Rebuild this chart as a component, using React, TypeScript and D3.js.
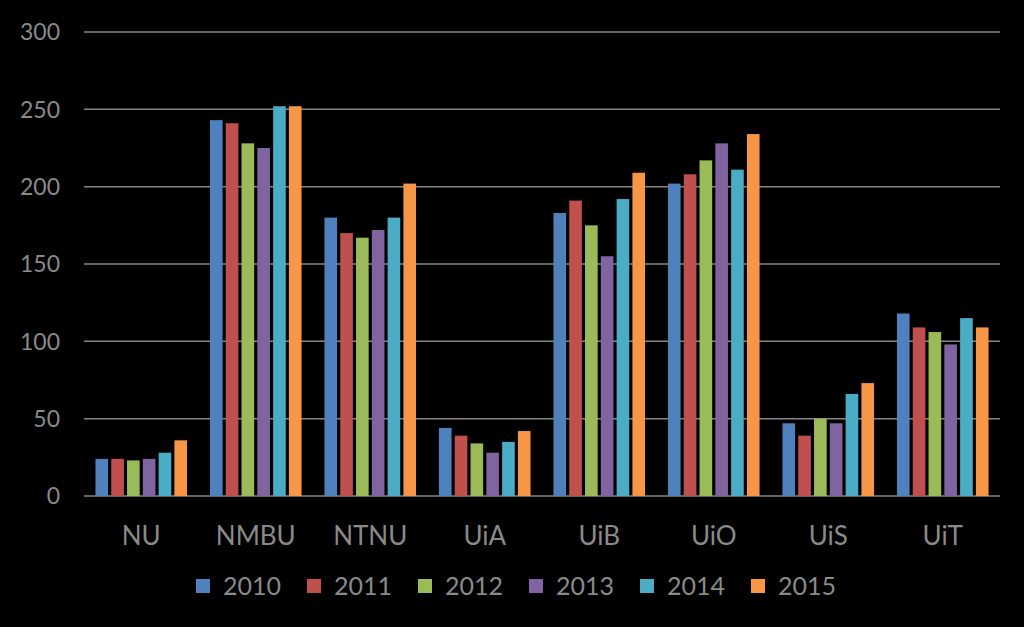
import React from 'react';
import * as d3 from 'd3';

const categories = ['NU', 'NMBU', 'NTNU', 'UiA', 'UiB', 'UiO', 'UiS', 'UiT'];
const years = ['2010', '2011', '2012', '2013', '2014', '2015'];
const yTicks = [0, 50, 100, 150, 200, 250, 300];

// one array per year, in category order
const v2010 = [24, 243, 180, 44, 183, 202, 47, 118];
const v2011 = [24, 241, 170, 39, 191, 208, 39, 109];
const v2012 = [23, 228, 167, 34, 175, 217, 50, 106];
const v2013 = [24, 225, 172, 28, 155, 228, 47, 98];
const v2014 = [28, 252, 180, 35, 192, 211, 66, 115];
const v2015 = [36, 252, 202, 42, 209, 234, 73, 109];
const seriesValues = [v2010, v2011, v2012, v2013, v2014, v2015];

const colors = ['#4F81BD', '#C0504D', '#9BBB59', '#8064A2', '#4BACC6', '#F79646'];

const W = 1024;
const H = 627;
const left = 84;
const right = 1000;
const top = 32;
const bottom = 496;
const textColor = '#8a8a8a';
const font = 'Lato, "Open Sans", sans-serif';

export default function App() {
  const x0 = d3.scaleBand<string>().domain(categories).range([left, right]).paddingInner(0.2).paddingOuter(0.1);
  const x1 = d3.scaleBand<string>().domain(years).range([0, x0.bandwidth()]).paddingInner(0.2);
  const y = d3.scaleLinear().domain([0, 300]).range([bottom, top]);

  const legendStep = 111;
  const legendStart = 196;

  return (
    <svg width={W} height={H} style={{ position: 'absolute', left: 0, top: 0, background: '#000' }}>
      <rect width={W} height={H} fill="#000" />
      {yTicks.map((t) => (
        <g key={t}>
          <line x1={left} x2={right} y1={y(t)} y2={y(t)} stroke="#868686" strokeWidth={1.5} />
          <text x={60} y={y(t)} dy="0.36em" textAnchor="end" fontSize={23} fill={textColor} fontFamily={font}>
            {t}
          </text>
        </g>
      ))}
      {categories.map((c, ci) => (
        <g key={c} transform={`translate(${x0(c)},0)`}>
          {years.map((yr, si) => {
            const v = seriesValues[si][ci];
            return (
              <rect
                key={yr}
                x={x1(yr)}
                y={y(v)}
                width={x1.bandwidth()}
                height={y(0) - y(v)}
                fill={colors[si]}
              />
            );
          })}
          <text
            x={x0.bandwidth() / 2}
            y={536}
            dy="0.36em"
            textAnchor="middle"
            fontSize={26}
            fill={textColor}
            fontFamily={font}
          >
            {c}
          </text>
        </g>
      ))}
      {years.map((yr, i) => (
        <g key={yr} transform={`translate(${legendStart + i * legendStep},586)`}>
          <rect x={0} y={-7} width={14} height={14} fill={colors[i]} />
          <text x={27} y={0} dy="0.36em" fontSize={25} fill={textColor} fontFamily={font}>
            {yr}
          </text>
        </g>
      ))}
    </svg>
  );
}
